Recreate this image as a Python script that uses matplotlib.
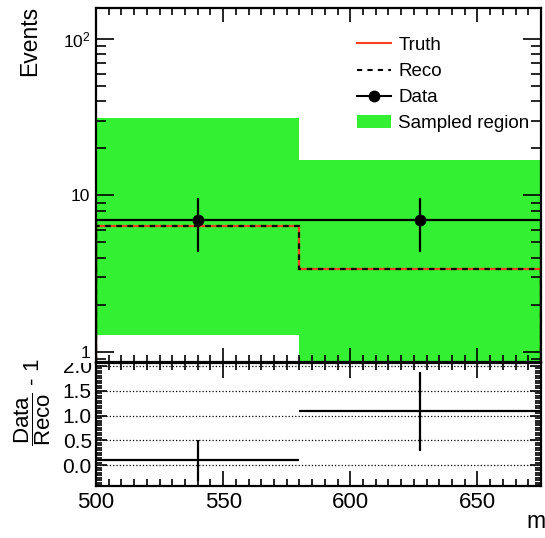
import numpy as np
import matplotlib
matplotlib.use("Agg")
import matplotlib.pyplot as plt
from matplotlib.ticker import MultipleLocator, FixedLocator, FixedFormatter, LogLocator, NullFormatter
from matplotlib.patches import Patch
from matplotlib.lines import Line2D
from matplotlib.transforms import Bbox, TransformedBbox

plt.rcParams['font.family'] = ['Liberation Sans', 'DejaVu Sans']
plt.rcParams['mathtext.fontset'] = 'custom'
plt.rcParams['mathtext.rm'] = 'Liberation Sans'
plt.rcParams['mathtext.it'] = 'Liberation Sans:italic'

# binning and contents
edges = [500, 580, 675]
truth = [6.37, 3.36]
reco = [6.37, 3.36]
data = [7.0, 7.0]
data_err = [2.65, 2.65]
band_lo = [1.28, 0.5]
band_hi = [31.3, 16.8]

GREEN = "#33f033"
RED = "#ff3d1f"

edges_a = np.array(edges, dtype=float)
centers = 0.5 * (edges_a[1:] + edges_a[:-1])
halfw = 0.5 * np.diff(edges_a)
ratio = np.array(data) / np.array(reco) - 1
ratio_err = np.array(data_err) / np.array(reco)

W, H = 545, 538
fig = plt.figure(figsize=(W / 100, H / 100), dpi=100)
# lower pad first so the upper pad sits on top of it
ax2 = fig.add_axes([96 / W, 1 - 486 / H, 445 / W, 123 / H])
ax1 = fig.add_axes([96 / W, 1 - 362 / H, 445 / W, 354 / H])

# ---- upper pad ----
ax1.bar(edges_a[:-1], np.array(band_hi) - np.array(band_lo), bottom=band_lo,
        width=np.diff(edges_a), align="edge", color=GREEN, lw=0, zorder=1)
ax1.stairs(truth, edges_a, color=RED, lw=1.6, zorder=2)
ax1.stairs(reco, edges_a, color="k", lw=1.6, linestyle=(0, (2.5, 2.5)), zorder=3)
ax1.stairs(data, edges_a, color="k", lw=1.6, zorder=4)
ax1.errorbar(centers, data, yerr=data_err, fmt="o", color="k", ms=7.5, lw=1.6,
             capsize=0, zorder=5)
ax1.set_yscale("log")
ax1.set_xlim(500, 675)
ax1.set_ylim(0.86, 158)
ax1.yaxis.set_major_locator(FixedLocator([1, 10, 100]))
ax1.yaxis.set_major_formatter(FixedFormatter(["1", "10", "$10^2$"]))
ax1.yaxis.set_minor_locator(LogLocator(base=10, subs=np.arange(2, 10)))
ax1.yaxis.set_minor_formatter(NullFormatter())
ax1.xaxis.set_major_locator(MultipleLocator(50))
ax1.xaxis.set_minor_locator(MultipleLocator(5))
ax1.tick_params(axis="both", which="both", direction="in", top=True, right=True,
                width=1.2)
ax1.tick_params(axis="y", which="major", length=13, labelsize=12.5, pad=4)
ax1.tick_params(axis="y", which="minor", length=7)
ax1.tick_params(axis="x", which="major", length=10, labelbottom=False)
ax1.tick_params(axis="x", which="minor", length=5)
for s in ax1.spines.values():
    s.set_linewidth(1.6)

handles = [Line2D([], [], color=RED, lw=1.5),
           Line2D([], [], color="k", lw=1.5, linestyle=(0, (2.5, 2.5))),
           Line2D([], [], color="k", lw=1.5, marker="o", ms=7.5),
           Patch(facecolor=GREEN, edgecolor="none")]
ax1.legend(handles, ["Truth", "Reco", "Data", "Sampled region"], loc="upper left",
           bbox_to_anchor=(0.566, 0.945), frameon=False, fontsize=13.5,
           handlelength=1.8, handletextpad=0.4, labelspacing=0.48, borderpad=0)

# ---- lower pad (ratio) ----
ax2.errorbar(centers, ratio, xerr=halfw, yerr=ratio_err, fmt="none", ecolor="k",
             lw=1.6, capsize=0, zorder=3)
ax2.set_xlim(500, 675)
ax2.set_ylim(-0.42, 2.06)
ax2.yaxis.set_major_locator(FixedLocator([0.0, 0.5, 1.0, 1.5, 2.0]))
ax2.yaxis.set_minor_locator(MultipleLocator(0.05))
ax2.xaxis.set_major_locator(MultipleLocator(50))
ax2.xaxis.set_minor_locator(MultipleLocator(5))
ax2.yaxis.grid(True, which="major", linestyle=":", color="k", lw=0.9)
ax2.set_yticklabels(["0.0", "0.5", "1.0", "1.5", "2.0"])
ax2.tick_params(axis="both", which="both", direction="in", top=True, right=True,
                width=1.2)
ax2.tick_params(axis="y", which="major", length=8, labelsize=15, pad=3)
ax2.tick_params(axis="y", which="minor", length=4)
ax2.tick_params(axis="x", which="major", length=11, labelsize=16, pad=4)
ax2.tick_params(axis="x", which="minor", length=5)
for s in ax2.spines.values():
    s.set_linewidth(1.6)
# the top ratio label is cut by the upper pad, as in the original
clip = TransformedBbox(Bbox([[0, 0], [1, 1 - 363 / H]]), fig.transFigure)
for lab in ax2.get_yticklabels():
    lab.set_clip_box(clip)
    lab.set_clip_on(True)

fig.text(30 / W, 1 - 6 / H, "Events", rotation=90, ha="center", va="top", fontsize=16.5)
fig.text(33 / W, 1 - 402 / H, r"$\dfrac{\mathrm{Data}}{\mathrm{Reco}}$ - 1",
         rotation=90, ha="center", va="center", fontsize=16)
fig.text(536 / W, 1 - 522 / H, "m", ha="center", va="center", fontsize=16.5)

fig.savefig("out.png", dpi=100)
